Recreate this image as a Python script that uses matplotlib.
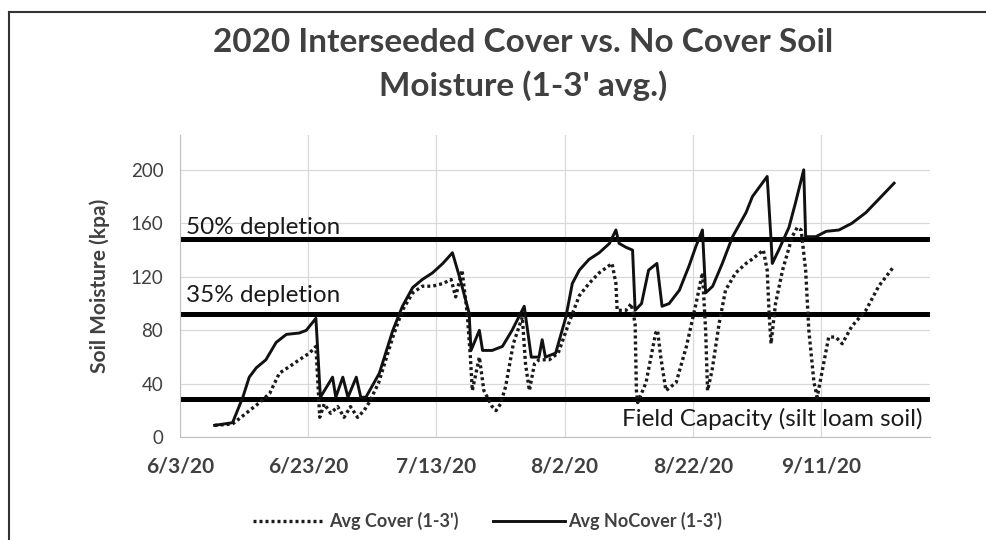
import numpy as np
import matplotlib
matplotlib.use("Agg")
import matplotlib.pyplot as plt

plt.rcParams['font.family'] = ['Lato', 'DejaVu Sans']

start = np.datetime64('2020-06-03')

# days after 6/3/20 and soil moisture (kpa)
nocover_days = [5.4, 8.2, 9.8, 10.8, 11.9, 13.4, 15.0, 16.6, 18.6, 19.7, 21.2, 21.9,
                23.8, 24.3, 25.4, 26.2, 27.5, 28.2, 29.0, 31.1, 33.2, 34.7, 36.3, 37.8,
                39.4, 41.0, 42.5, 43.6, 45.1, 45.4, 46.7, 47.2, 48.7, 50.3, 51.8, 53.7,
                54.8, 56.0, 56.5, 57.0, 58.6, 60.2, 61.2, 62.3, 63.8, 65.4, 67.0, 68.0,
                68.5, 69.6, 70.6, 71.0, 72.0, 73.1, 74.4, 75.2, 76.3, 77.9, 79.4, 80.5,
                81.5, 82.0, 83.1, 84.6, 86.2, 88.3, 89.3, 91.6, 92.2, 92.4, 93.4, 95.0,
                96.0, 97.3, 97.6, 99.2, 100.8, 102.8, 104.8, 107.0, 109.0, 111.4]
nocover_vals = [9, 11, 30, 45, 52, 58, 71, 77, 78, 80, 89, 30,
                45, 30, 45, 30, 45, 30, 30, 48, 80, 98, 112, 118,
                123, 130, 138, 120, 93, 65, 80, 65, 65, 68, 80, 98,
                60, 60, 73, 60, 63, 90, 115, 125, 133, 138, 145, 155,
                145, 142, 140, 95, 100, 125, 130, 98, 100, 110, 128, 143,
                155, 108, 113, 130, 150, 168, 180, 195, 148, 130, 140, 157,
                175, 200, 150, 150, 154, 155, 160, 168, 178, 190]

cover_days = [5.4, 8.2, 10.3, 12.4, 14.0, 15.5, 17.1, 18.6, 20.2, 21.2, 21.8, 22.5,
              23.5, 24.6, 25.6, 26.6, 27.7, 28.7, 29.5, 31.0, 33.2, 34.7, 36.3, 37.8,
              39.4, 41.0, 42.3, 43.0, 44.0, 44.8, 45.3, 45.6, 46.7, 47.4, 48.7, 49.3,
              50.0, 50.8, 52.0, 53.4, 53.9, 54.5, 55.3, 56.0, 57.6, 59.0, 60.7, 62.3,
              63.8, 65.4, 67.4, 68.0, 68.2, 69.6, 70.4, 71.0, 71.2, 71.4, 72.7, 74.2,
              74.5, 75.0, 75.8, 77.4, 79.0, 80.5, 81.5, 82.0, 82.3, 83.0, 84.1, 85.1,
              86.7, 88.3, 89.2, 91.0, 91.6, 91.9, 92.2, 92.9, 94.0, 95.5, 96.3, 96.9,
              97.6, 98.1, 98.9, 99.4, 100.2, 101.2, 102.3, 103.3, 104.8, 107.0, 109.0, 111.4]
cover_vals = [9, 10, 18, 26, 33, 48, 53, 58, 63, 68, 15, 25,
              18, 23, 15, 23, 15, 20, 26, 41, 75, 95, 108, 113,
              113, 115, 118, 105, 125, 93, 60, 35, 60, 35, 23, 20,
              25, 38, 70, 90, 55, 35, 55, 58, 58, 63, 86, 106,
              115, 123, 130, 115, 95, 95, 100, 85, 35, 26, 41, 78,
              80, 60, 35, 41, 68, 100, 123, 80, 35, 50, 85, 110,
              123, 130, 133, 140, 125, 93, 70, 100, 125, 150, 157, 155,
              125, 80, 41, 30, 50, 75, 75, 70, 83, 95, 113, 128]

thresholds = [148, 92, 29]
threshold_labels = ['50% depletion', '35% depletion', 'Field Capacity (silt loam soil)']

tick_days = [0, 20, 40, 60, 80, 100]
tick_labels = ['6/3/20', '6/23/20', '7/13/20', '8/2/20', '8/22/20', '9/11/20']
y_ticks = [0, 40, 80, 120, 160, 200]


def to_dates(days):
    return start + (np.array(days) * 24 * 60).astype('timedelta64[m]')


fig = plt.figure(figsize=(9.87, 5.4), dpi=100)
ax = fig.add_axes([180 / 987, 0.19, 750 / 987, 0.56])

# frame around the figure (only top and left visible in the crop)
fig.add_artist(plt.Line2D([9 / 987, 9 / 987], [0, 1 - 12 / 540], color='#333333', lw=1.5))
fig.add_artist(plt.Line2D([9 / 987, 1], [1 - 12 / 540, 1 - 12 / 540], color='#333333', lw=1.5))

cover_line, = ax.plot(to_dates(cover_days), cover_vals, color='#1a1a1a', lw=2.4,
                      linestyle=(0, (0.9, 0.9)), label="Avg Cover (1-3')")
nocover_line, = ax.plot(to_dates(nocover_days), nocover_vals, color='#111111', lw=2.1,
                        label="Avg NoCover (1-3')")

for y in thresholds:
    ax.axhline(y, color='black', lw=3.6, zorder=1)

ax.set_xlim(start, start + np.timedelta64(117, 'D'))
ax.set_ylim(0, 226)
ax.set_xticks(to_dates(tick_days))
ax.set_xticklabels(tick_labels, fontsize=15, fontweight='bold', color='#404040')
ax.set_yticks(y_ticks)
ax.set_yticklabels([str(v) for v in y_ticks], fontsize=13.5, color='#404040')
ax.tick_params(length=0)
ax.tick_params(axis='x', pad=14)
ax.tick_params(axis='y', pad=12)

ax.grid(True, color='#d9d9d9', lw=0.9)
ax.set_axisbelow(True)
for side in ['top', 'right']:
    ax.spines[side].set_visible(False)
for side in ['left', 'bottom']:
    ax.spines[side].set_color('#bfbfbf')

ax.set_ylabel('Soil Moisture (kpa)', fontsize=15, fontweight='bold', color='#404040', labelpad=15)

ax.text(to_dates([1.0])[0], thresholds[0] + 1, threshold_labels[0], fontsize=17.5, color='#1a1a1a', va='bottom')
ax.text(to_dates([1.0])[0], thresholds[1] + 6, threshold_labels[1], fontsize=17.5, color='#1a1a1a', va='bottom')
ax.text(to_dates([115.8])[0], thresholds[2] - 7, threshold_labels[2], fontsize=17.5, color='#1a1a1a',
        va='top', ha='right')

fig.text(0.53, 1 - 43 / 540, '2020 Interseeded Cover vs. No Cover Soil', ha='center', va='center',
         fontsize=24, fontweight='bold', color='#404040')
fig.text(0.53, 1 - 86 / 540, "Moisture (1-3' avg.)", ha='center', va='center',
         fontsize=24, fontweight='bold', color='#404040')

fig.legend(handles=[cover_line, nocover_line], loc='center', bbox_to_anchor=(0.494, 1 - 521 / 540),
           ncol=2, frameon=False, prop={'size': 13, 'weight': 'bold'}, handlelength=4.0,
           handletextpad=0.2, columnspacing=1.9, labelcolor='#404040')

fig.savefig('out.png', dpi=100)
